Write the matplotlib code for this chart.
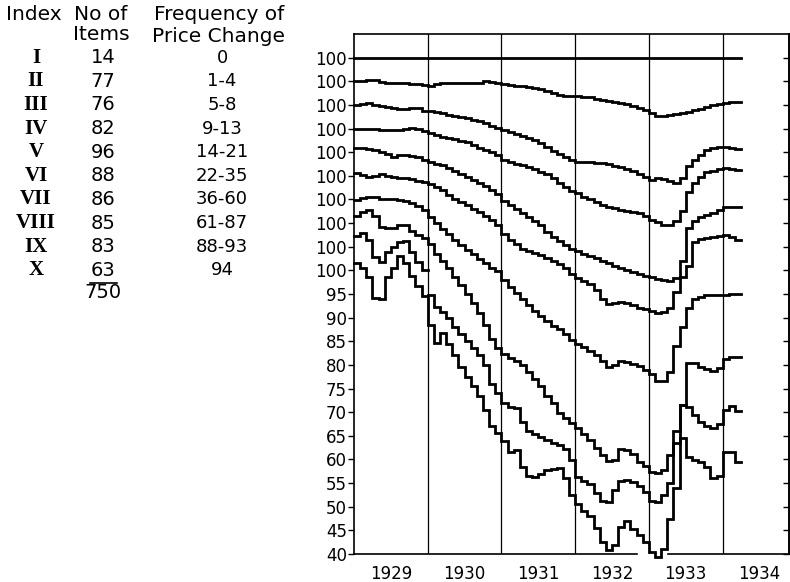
import numpy as np
import matplotlib
matplotlib.use('Agg')
import matplotlib.pyplot as plt
from matplotlib.transforms import blended_transform_factory

plt.rcParams['font.family'] = ['DejaVu Sans']

## Groups of items by how often their price changed
groups = ['I', 'II', 'III', 'IV', 'V', 'VI', 'VII', 'VIII', 'IX', 'X']
n_items = [14, 77, 76, 82, 96, 88, 86, 85, 83, 63]
freq_change = ['0', '1-4', '5-8', '9-13', '14-21', '22-35', '36-60', '61-87', '88-93', '94']
total_items = 750

year_labels = ['1929', '1930', '1931', '1932', '1933', '1934']

## Monthly index values, Jan 1929 .. Mar 1934 (one row per year)
index_i = [100] * 63

index_ii = [100, 100, 100.3, 100.2, 99.8, 99.7, 99.7, 99.6, 99.6, 99.5, 99.5, 99.3,
            99.0, 99.5, 99.6, 99.6, 99.6, 99.7, 99.7, 99.7, 99.7, 100.1, 99.8, 99.6,
            99.4, 99.3, 99.1, 98.9, 98.7, 98.5, 98.3, 97.9, 97.5, 97.2, 96.9, 96.8,
            96.8, 96.7, 96.6, 96.3, 96.1, 95.9, 95.6, 95.3, 95.1, 94.8, 94.3, 93.9,
            93.3, 92.7, 92.6, 92.9, 93.1, 93.3, 93.5, 93.9, 94.2, 94.5, 94.9, 95.2,
            95.5, 95.6, 95.7]

index_iii = [100, 100.2, 100.4, 100.0, 99.8, 99.6, 99.4, 99.2, 99.1, 99.3, 99.4, 98.8,
             98.7, 98.5, 98.2, 97.9, 97.7, 97.4, 97.2, 96.8, 96.5, 96.1, 95.6, 95.1,
             94.6, 94.2, 93.9, 93.5, 93.0, 92.5, 91.9, 91.0, 90.2, 89.6, 89.0, 88.4,
             88.0, 88.0, 87.9, 87.8, 87.7, 87.4, 87.1, 86.8, 86.5, 86.0, 85.3, 84.8,
             84.2, 84.5, 84.4, 83.9, 83.5, 84.6, 87.0, 88.3, 89.3, 90.5, 90.9, 91.0,
             91.0, 90.9, 90.7]

index_iv = [100, 100, 100, 99.8, 99.6, 99.6, 99.7, 99.7, 99.8, 100.2, 99.8, 99.5,
            99.0, 98.6, 98.3, 98.0, 97.8, 97.4, 97.1, 96.6, 95.9, 95.5, 95.0, 94.3,
            93.3, 93.0, 92.6, 92.2, 91.8, 91.4, 90.9, 90.3, 89.5, 88.5, 87.6, 86.8,
            86.3, 85.6, 85.0, 84.4, 83.8, 83.4, 83.1, 82.8, 82.6, 82.4, 82.2, 81.5,
            80.7, 80.2, 79.6, 79.5, 80.5, 82.5, 86.5, 88.5, 89.7, 90.8, 91.1, 91.4,
            91.7, 91.5, 91.3]

index_v = [100.9, 100.8, 100.7, 100.4, 100.0, 99.7, 99.0, 99.3, 99.5, 99.2, 98.9, 98.4,
           98.0, 97.6, 97.2, 96.6, 96.1, 95.4, 94.8, 94.2, 93.5, 92.8, 92.0, 91.2,
           89.6, 88.8, 88.0, 87.2, 86.3, 85.5, 84.6, 83.2, 82.0, 81.2, 80.4, 79.6,
           79.0, 78.5, 78.0, 77.6, 77.0, 76.5, 76.0, 75.5, 75.0, 74.6, 74.2, 73.8,
           73.5, 73.2, 72.9, 72.8, 73.3, 77.0, 84.0, 85.5, 86.2, 86.8, 87.2, 87.8,
           88.3, 88.4, 88.5]

index_vi = [100.6, 100.2, 99.7, 100.0, 100.3, 100.0, 99.7, 99.6, 99.5, 99.4, 99.0, 98.6,
            98.3, 97.6, 97.0, 96.0, 95.2, 94.5, 93.8, 93.0, 92.3, 91.5, 90.6, 89.5,
            87.6, 86.5, 85.5, 84.6, 84.0, 83.6, 83.2, 82.7, 82.0, 81.3, 80.4, 79.2,
            78.3, 77.8, 77.2, 75.8, 74.0, 72.8, 73.1, 73.3, 73.1, 72.6, 72.1, 71.8,
            71.5, 71.0, 71.1, 72.0, 75.5, 78.6, 81.0, 86.0, 86.7, 86.9, 87.1, 87.3,
            87.4, 87.0, 86.5]

index_vii = [99.8, 100.3, 100.6, 100.5, 100.2, 100.2, 100.0, 99.8, 99.6, 99.2, 98.7, 97.7,
             96.2, 95.0, 93.8, 92.7, 91.5, 90.4, 89.4, 88.5, 87.5, 86.5, 85.6, 84.8,
             83.0, 81.5, 80.2, 79.0, 77.6, 76.4, 75.3, 74.3, 73.3, 72.5, 71.5, 70.3,
             69.5, 68.8, 67.9, 67.0, 65.8, 64.6, 65.0, 65.8, 65.6, 65.2, 64.7, 64.0,
             63.0, 61.6, 61.5, 63.5, 69.0, 73.0, 77.0, 79.0, 79.4, 79.7, 79.7, 79.7,
             79.8, 80.0, 80.1]

index_viii = [101.6, 102.3, 102.7, 101.4, 99.2, 98.9, 99.0, 99.5, 99.6, 98.3, 97.4, 96.8,
              95.5, 93.5, 92.0, 90.5, 88.5, 86.9, 85.0, 83.0, 81.0, 78.5, 75.5, 73.5,
              72.4, 71.5, 70.8, 70.0, 68.5, 67.0, 65.5, 63.5, 62.0, 59.8, 58.7, 57.8,
              56.6, 55.4, 54.1, 52.5, 51.0, 49.6, 49.8, 52.3, 52.0, 51.2, 49.5, 48.7,
              47.3, 47.1, 47.8, 51.0, 56.0, 61.5, 70.5, 70.5, 69.6, 69.2, 68.7, 69.4,
              71.2, 71.6, 71.6]

## index IX is not carried over the turn of 1929/30: the line starts afresh
index_ix = [102.3, 102.8, 101.5, 97.8, 96.7, 98.8, 100.0, 101.0, 101.2, 98.8, 96.8, 95.0,
            89.8, 87.2, 86.1, 84.9, 83.0, 81.5, 80.0, 78.5, 77.0, 75.0, 71.0, 69.0,
            67.0, 66.0, 65.9, 63.0, 61.1, 60.4, 59.8, 59.1, 58.5, 58.0, 57.2, 54.9,
            51.3, 50.5, 49.8, 48.0, 46.2, 46.0, 48.6, 50.5, 50.6, 50.2, 49.4, 48.2,
            46.3, 46.0, 47.5, 50.0, 58.5, 66.5, 66.2, 64.5, 62.9, 62.0, 61.6, 62.5,
            65.5, 66.4, 65.2]
ix_break = 12

index_x = [101.5, 100.4, 98.5, 94.1, 94.0, 98.5, 100.6, 103.0, 101.5, 98.8, 96.6, 94.5,
           88.5, 84.6, 86.7, 84.5, 82.0, 79.5, 77.5, 75.5, 73.5, 70.5, 67.0, 65.5,
           64.0, 61.5, 61.9, 58.5, 56.6, 56.3, 57.0, 57.7, 57.9, 58.2, 56.0, 52.5,
           50.5, 49.0, 48.0, 45.5, 42.5, 40.8, 41.8, 45.7, 47.0, 45.2, 44.0, 42.5,
           40.5, 39.3, 41.0, 47.5, 54.0, 64.5, 60.5, 59.8, 59.4, 58.4, 56.0, 56.5,
           61.5, 61.5, 59.5]

series = [index_i, index_ii, index_iii, index_iv, index_v,
          index_vi, index_vii, index_viii, index_ix, index_x]
breaks = {8: ix_break}

## each curve is lifted 5 points above the one below it
step = 5


def draw_steps(ax, vals, start, off):
    t = 1929 + (start + np.arange(len(vals) + 1)) / 12.0
    y = np.array(list(vals) + [vals[-1]]) + off
    ax.step(t, y, where='post', color='black', lw=2.0, clip_on=False,
            solid_joinstyle='miter', zorder=3)


fig = plt.figure(figsize=(7.9, 5.82), dpi=100)
ax = fig.add_axes([354 / 790, 1 - 554 / 582, 435 / 790, 520 / 582])

for i, vals in enumerate(series):
    off = (len(series) - 1 - i) * step
    if i in breaks:
        b = breaks[i]
        draw_steps(ax, vals[:b], 0, off)
        draw_steps(ax, vals[b:], b, off)
    else:
        draw_steps(ax, vals, 0, off)

ax.set_xlim(1929, 1934.9)
ax.set_ylim(40, 150)

## year boundaries
for yr in range(1930, 1935):
    ax.axvline(yr, color='black', lw=0.9, zorder=1)

ax.set_xticks([1929.5 + k for k in range(len(year_labels))])
ax.set_xticklabels(year_labels, fontsize=12)
ax.tick_params(axis='x', length=0, pad=8)

yt = list(range(40, 150, 5))
ax.set_yticks(yt)
ax.set_yticklabels([str(v) if v < 100 else '100' for v in yt], fontsize=12)
ax.tick_params(axis='y', direction='out', length=4, width=1, pad=1)

sec = ax.secondary_yaxis('right')
sec.set_yticks(yt)
sec.set_yticklabels([])
sec.tick_params(direction='in', length=4, width=1)
sec.spines['right'].set_linewidth(1.2)

for s in ['left', 'top', 'right']:
    ax.spines[s].set_linewidth(1.2)

## bottom axis is broken where the lowest curve dips under it
ax.spines['bottom'].set_visible(False)
ax.plot([1929, 1932.84], [40, 40], color='black', lw=1.2, clip_on=False, zorder=2)
ax.plot([1933.26, 1934.9], [40, 40], color='black', lw=1.2, clip_on=False, zorder=2)

## the key table on the left, rows lined up with each curve's 100 level
tr = blended_transform_factory(fig.transFigure, ax.transData)
hdr = dict(fontsize=14.5, ha='center', va='center')
fig.text(34 / 790, 1 - 15 / 582, 'Index', **hdr)
fig.text(101 / 790, 1 - 15 / 582, 'No of', **hdr)
fig.text(101 / 790, 1 - 35 / 582, 'Items', **hdr)
fig.text(219 / 790, 1 - 15 / 582, 'Frequency of', **hdr)
fig.text(219 / 790, 1 - 36 / 582, 'Price Change', **hdr)

for i, g in enumerate(groups):
    lvl = 100 + (len(groups) - 1 - i) * step
    ax.text(36 / 790, lvl, g, transform=tr, ha='center', va='center',
            fontsize=15, family='Liberation Serif', fontweight='bold')
    ax.text(103 / 790, lvl, str(n_items[i]), transform=tr, ha='center',
            va='center', fontsize=14)
    ax.text(222 / 790, lvl, freq_change[i], transform=tr, ha='center',
            va='center', fontsize=13)

fig.add_artist(plt.Line2D([90 / 790, 117 / 790], [1 - 283 / 582, 1 - 283 / 582],
                          color='black', lw=1.2))
fig.text(103 / 790, 1 - 293 / 582, str(total_items), ha='center', va='center',
         fontsize=14)

fig.savefig('out.png', dpi=100)
